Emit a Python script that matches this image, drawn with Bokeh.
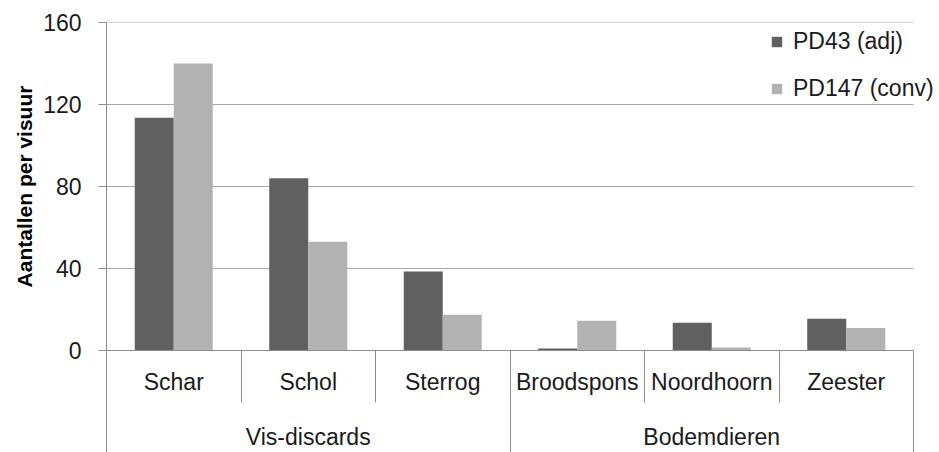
from bokeh.plotting import figure
from bokeh.models import ColumnDataSource, Range1d, FixedTicker, LinearAxis, Legend, LegendItem
from bokeh.transform import dodge
from bokeh.embed import file_html
from bokeh.resources import INLINE

categories = ["Schar", "Schol", "Sterrog", "Broodspons", "Noordhoorn", "Zeester"]
groups = ["Vis-discards", "Bodemdieren"]
group_sizes = [3, 3]
series_names = ["PD43 (adj)", "PD147 (conv)"]
pd43 = [113.5, 84, 38.5, 1, 13.5, 15.5]
pd147 = [140, 53, 17.5, 14.5, 1.5, 11]
y_ticks = [0, 40, 80, 120, 160]

FONT = "Liberation Sans"
TXT = "#1a1a1a"
AX = "#8c8c8c"
GRID = "#a8a8a8"

n = len(categories)
CAT_W = 807          # pixel width of the category area
FRAME_W = 829        # frame extends a bit to the right to hold the legend text
xs = [i + 0.5 for i in range(n)]
src = ColumnDataSource(dict(x=xs, a=pd43, b=pd147))

p = figure(frame_width=FRAME_W, frame_height=328, output_backend="svg", toolbar_location=None,
           x_range=Range1d(0, n * FRAME_W / CAT_W), y_range=Range1d(0, 160),
           min_border_left=106, min_border_right=0, min_border_top=22, min_border_bottom=10,
           x_axis_location=None)
p.outline_line_color = None
p.xgrid.visible = False
p.ygrid.visible = False

# horizontal gridlines limited to the category area
gsrc = ColumnDataSource(dict(y=y_ticks, x0=[0] * len(y_ticks), x1=[n] * len(y_ticks)))
p.segment(x0="x0", x1="x1", y0="y", y1="y", source=gsrc, line_color=GRID, line_width=1,
          level="underlay")

bw = 0.29
r1 = p.vbar(x=dodge("x", -bw / 2, range=p.x_range), top="a", width=bw, source=src,
            fill_color="#606060", line_color=None)
r2 = p.vbar(x=dodge("x", bw / 2, range=p.x_range), top="b", width=bw, source=src,
            fill_color="#b2b2b2", line_color=None)

# y axis
ya = p.yaxis[0]
ya.ticker = FixedTicker(ticks=y_ticks, minor_ticks=[])
ya.major_tick_out = 8
ya.major_tick_in = 0
ya.major_tick_line_color = AX
ya.axis_line_color = AX
ya.major_label_standoff = 17
ya.major_label_text_font = FONT
ya.major_label_text_font_size = "23px"
ya.major_label_text_color = TXT
ya.axis_label = "Aantallen per visuur"
ya.axis_label_text_font = FONT
ya.axis_label_text_font_size = "21px"
ya.axis_label_text_font_style = "bold"
ya.axis_label_text_color = "#000000"
ya.axis_label_standoff = 4

# category axis
ax1 = LinearAxis(ticker=FixedTicker(ticks=xs, minor_ticks=list(range(n + 1))),
                 major_label_overrides={x: c for x, c in zip(xs, categories)},
                 bounds=(0, n))
ax1.axis_line_color = AX
ax1.major_tick_line_color = None
ax1.major_tick_out = 0
ax1.major_tick_in = 0
ax1.minor_tick_line_color = AX
ax1.minor_tick_out = 0
ax1.minor_tick_in = -52
ax1.major_label_standoff = 18
ax1.major_label_text_font = FONT
ax1.major_label_text_font_size = "23px"
ax1.major_label_text_color = TXT
p.add_layout(ax1, "below")

# group axis
bounds = [0]
for s in group_sizes:
    bounds.append(bounds[-1] + s)
gcent = [(bounds[i] + bounds[i + 1]) / 2 for i in range(len(groups))]
ax2 = LinearAxis(ticker=FixedTicker(ticks=gcent, minor_ticks=[]),
                 major_label_overrides={x: g for x, g in zip(gcent, groups)})
ax2.axis_line_color = None
ax2.major_tick_line_color = None
ax2.major_tick_out = 0
ax2.major_tick_in = 0
ax2.minor_tick_line_color = None
ax2.major_label_standoff = 26
ax2.major_label_text_font = FONT
ax2.major_label_text_font_size = "23px"
ax2.major_label_text_color = TXT
p.add_layout(ax2, "below")

# group boundary lines (drawn upward from the bottom)
ax3 = LinearAxis(ticker=FixedTicker(ticks=[], minor_ticks=bounds))
ax3.axis_line_color = None
ax3.major_tick_line_color = None
ax3.major_tick_out = 0
ax3.major_tick_in = 0
ax3.minor_tick_line_color = AX
ax3.minor_tick_out = 0
ax3.minor_tick_in = 64
ax3.major_label_text_font_size = "0px"
p.add_layout(ax3, "below")

legend = Legend(items=[LegendItem(label=series_names[0], renderers=[r1]),
                       LegendItem(label=series_names[1], renderers=[r2])],
                location=(664, 248))
legend.background_fill_alpha = 0
legend.border_line_color = None
legend.padding = 0
legend.margin = 0
legend.spacing = 20
legend.glyph_width = 13
legend.glyph_height = 13
legend.label_standoff = 10
legend.label_text_font = FONT
legend.label_text_font_size = "23px"
legend.label_text_color = TXT
p.add_layout(legend)

open("out.html", "w").write(file_html(p, INLINE))
